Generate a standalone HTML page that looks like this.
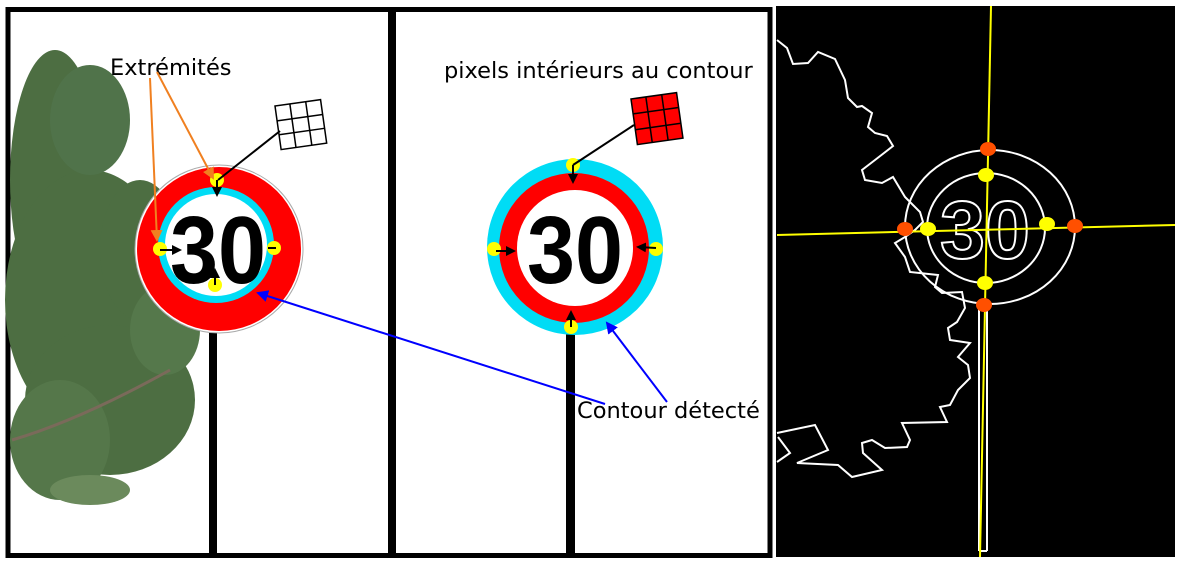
<!DOCTYPE html>
<html><head><meta charset="utf-8"><style>
html,body{margin:0;padding:0;background:#fff;width:1180px;height:564px;overflow:hidden}
svg{display:block}
text{font-family:"DejaVu Sans","Liberation Sans",sans-serif}
.num{font-family:"Liberation Sans",sans-serif;font-weight:bold}
</style></head><body>
<svg width="1180" height="564" viewBox="0 0 1180 564">
<defs>
<marker id="ab" markerWidth="6" markerHeight="6" refX="5" refY="3" orient="auto"><path d="M0,0L6,3L0,6z" fill="#00f"/></marker>
<marker id="ao" markerWidth="6" markerHeight="6" refX="5" refY="3" orient="auto"><path d="M0,0L6,3L0,6z" fill="#f08020"/></marker>
<marker id="ak" markerWidth="5" markerHeight="5" refX="4" refY="2.5" orient="auto"><path d="M0,0L5,2.5L0,5z" fill="#000"/></marker>
</defs>
<g>
<rect x="8" y="9.5" width="762" height="546" fill="#fff" stroke="#000" stroke-width="5"/>
<line x1="392" y1="8" x2="392" y2="558" stroke="#000" stroke-width="8"/>
</g>
<g fill="#4d6e42">
<ellipse cx="55" cy="180" rx="45" ry="130"/>
<ellipse cx="90" cy="300" rx="85" ry="130"/>
<ellipse cx="110" cy="400" rx="85" ry="75"/>
<ellipse cx="60" cy="440" rx="50" ry="60" fill="#55774a"/>
<ellipse cx="140" cy="250" rx="40" ry="70"/>
<ellipse cx="90" cy="120" rx="40" ry="55" fill="#50734a"/>
<ellipse cx="165" cy="330" rx="35" ry="45" fill="#55784b"/>
<ellipse cx="90" cy="490" rx="40" ry="15" fill="#6b8a5c"/>
<path d="M12,440 Q80,420 170,370" stroke="#7a6a5a" stroke-width="3" fill="none"/>
</g>
<g>
<rect x="209" y="310" width="8" height="245" fill="#000"/>
<circle cx="219" cy="249" r="84" fill="#fff" stroke="#aaa" stroke-width="1"/>
<circle cx="219" cy="249" r="82" fill="#f00"/>
<circle cx="216" cy="245" r="58" fill="#00dcf5"/>
<circle cx="216" cy="245" r="51" fill="#fff"/>
<text class="num" x="170" y="283" font-size="96" textLength="96" lengthAdjust="spacingAndGlyphs" fill="#000">30</text>
<circle cx="217" cy="180" r="7" fill="#ff0"/><circle cx="160" cy="249" r="7" fill="#ff0"/>
<circle cx="274" cy="248" r="7" fill="#ff0"/><circle cx="215" cy="285" r="7" fill="#ff0"/>
<g stroke="#000" stroke-width="2" marker-end="url(#ak)">
<line x1="217" y1="180" x2="217" y2="195"/><line x1="160" y1="250" x2="180" y2="250"/>
<line x1="268" y1="248" x2="276" y2="248" marker-end="none"/><line x1="215" y1="285" x2="215" y2="270"/>
</g>
</g>
<g transform="translate(275,106) rotate(-8)" stroke="#000" stroke-width="1.5" fill="#fff">
<rect x="0" y="0" width="46" height="44"/>
<line x1="15" y1="0" x2="15" y2="44"/><line x1="31" y1="0" x2="31" y2="44"/>
<line x1="0" y1="15" x2="46" y2="15"/><line x1="0" y1="29" x2="46" y2="29"/>
</g>
<line x1="280" y1="131" x2="218" y2="180" stroke="#000" stroke-width="2"/>
<text x="110" y="75" font-size="22.5" fill="#000">Extrémités</text>
<line x1="150" y1="78" x2="157" y2="240" stroke="#f08020" stroke-width="2" marker-end="url(#ao)"/>
<line x1="157" y1="72" x2="213" y2="178" stroke="#f08020" stroke-width="2" marker-end="url(#ao)"/>
<g>
<rect x="566" y="325" width="9" height="230" fill="#000"/>
<circle cx="575" cy="247" r="88" fill="#00dcf5"/>
<circle cx="574" cy="248" r="75" fill="#f00"/>
<circle cx="575" cy="248" r="58" fill="#fff"/>
<text class="num" x="527" y="283" font-size="96" textLength="96" lengthAdjust="spacingAndGlyphs" fill="#000">30</text>
<circle cx="573" cy="165" r="7" fill="#ff0"/><circle cx="494" cy="249" r="7" fill="#ff0"/>
<circle cx="656" cy="249" r="7" fill="#ff0"/><circle cx="571" cy="327" r="7" fill="#ff0"/>
<g stroke="#000" stroke-width="2" marker-end="url(#ak)">
<line x1="573" y1="165" x2="573" y2="182"/><line x1="496" y1="251" x2="514" y2="251"/>
<line x1="656" y1="248" x2="638" y2="247"/><line x1="571" y1="327" x2="571" y2="312"/>
</g>
</g>
<g transform="translate(631,99) rotate(-8)" stroke="#000" stroke-width="1.5" fill="#f00">
<rect x="0" y="0" width="46" height="46"/>
<line x1="15" y1="0" x2="15" y2="46"/><line x1="31" y1="0" x2="31" y2="46"/>
<line x1="0" y1="15" x2="46" y2="15"/><line x1="0" y1="31" x2="46" y2="31"/>
</g>
<line x1="634" y1="125" x2="573" y2="165" stroke="#000" stroke-width="2"/>
<text x="444" y="78" font-size="22.5" fill="#000">pixels intérieurs au contour</text>
<text x="577" y="418" font-size="22.5" fill="#000">Contour détecté</text>
<line x1="605" y1="404" x2="258" y2="293" stroke="#00f" stroke-width="2" marker-end="url(#ab)"/>
<line x1="667" y1="402" x2="607" y2="323" stroke="#00f" stroke-width="2" marker-end="url(#ab)"/>
<g>
<rect x="776" y="6" width="399" height="551" fill="#000"/>
<polyline fill="none" stroke="#fff" stroke-width="2" points="777,40 787,48 793,64 808,63 818,52 835,59 845,80 848,98 857,107 862,106 872,113 868,127 875,133 887,136 893,146 875,160 862,170 865,180 882,183 893,177 905,197 920,212 923,222 915,230 905,237 895,243 905,257 910,272 938,275 935,287 942,293 962,292 965,308 957,322 948,328 950,340 970,343 958,357 968,365 970,378 958,390 950,405 940,407 947,422 902,423 910,440 907,447 885,448 872,440 862,443 863,453 882,470 852,477 838,465 797,463 828,450 815,425 777,433"/>
<polyline fill="none" stroke="#fff" stroke-width="2" points="778,437 790,453 777,462"/>
<ellipse cx="990" cy="227" rx="85" ry="77" fill="none" stroke="#fff" stroke-width="2"/>
<ellipse cx="986" cy="228" rx="59" ry="55" fill="none" stroke="#fff" stroke-width="2"/>
<text class="num" x="940" y="258" font-size="82" textLength="90" lengthAdjust="spacingAndGlyphs" fill="none" stroke="#fff" stroke-width="2">30</text>
<line x1="979" y1="305" x2="979" y2="551" stroke="#fff" stroke-width="2"/>
<line x1="987" y1="305" x2="987" y2="551" stroke="#fff" stroke-width="2"/>
<line x1="979" y1="551" x2="987" y2="551" stroke="#fff" stroke-width="2"/>
<line x1="991" y1="6" x2="980" y2="557" stroke="#ff0" stroke-width="2"/>
<line x1="777" y1="235" x2="1175" y2="225" stroke="#ff0" stroke-width="2"/>
<g fill="#ff5000">
<ellipse cx="988" cy="149" rx="8" ry="7"/><ellipse cx="905" cy="229" rx="8" ry="7"/>
<ellipse cx="1075" cy="226" rx="8" ry="7"/><ellipse cx="984" cy="305" rx="8" ry="7"/>
</g>
<g fill="#ff0">
<ellipse cx="986" cy="175" rx="8" ry="7"/><ellipse cx="928" cy="229" rx="8" ry="7"/>
<ellipse cx="1047" cy="224" rx="8" ry="7"/><ellipse cx="985" cy="283" rx="8" ry="7"/>
</g>
</g>
</svg>
</body></html>
